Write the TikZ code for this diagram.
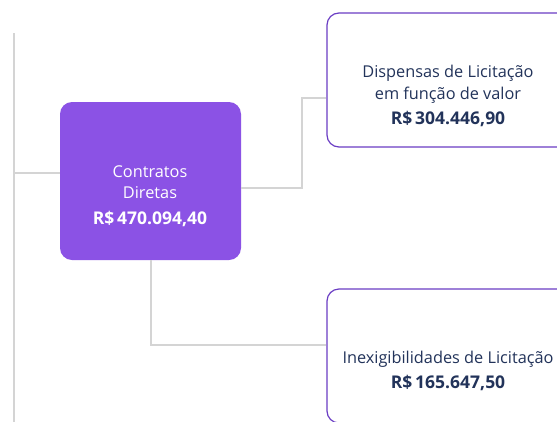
\documentclass[tikz,border=0pt]{standalone}
\usepackage{fontspec}
\setmainfont{Open Sans}
\usepackage{tikz}
\usetikzlibrary{positioning}
\usetikzlibrary{calc}

\definecolor{violet}{HTML}{8B52E5}
\definecolor{violetedge}{HTML}{6A3DC4}
\definecolor{navy}{HTML}{22335A}
\definecolor{linegrey}{HTML}{D4D4D4}

\newcommand{\amount}[1]{{\fontsize{17.5}{21.5}\selectfont\bfseries #1}}

\begin{document}
\begin{tikzpicture}[x=1pt, y=-1pt,
    link/.style={draw=linegrey, line width=1.6pt},
    mainbox/.style={rectangle, rounded corners=12pt, fill=violet, draw=none, minimum width=181pt, minimum height=158pt},
    subbox/.style={rectangle, rounded corners=12pt, fill=white, draw=violetedge, line width=1.2pt, minimum width=242pt},
    txt/.style={align=center, inner sep=0pt, font=\fontsize{16.3}{21.5}\selectfont}]
        % Fix the page to the reference size
        \clip (0,0) rectangle (557,421);
        \fill[white] (0,0) rectangle (557,421);

        % Define the trunk on the left
        \coordinate (trunktop) at (14,33);
        \coordinate (trunkbot) at (14,425);
        \draw[link] (trunktop) -- (trunkbot);

        % Draw the boxes
        \node[mainbox] (contr) at (150.5,181) {};
        \node[subbox, minimum height=134pt] (disp) at (448,80) {};
        \node[subbox, minimum height=134pt] (inex) at (448,356) {};

        % Draw the connectors
        \draw[link] (14,173) -- ([yshift=8pt]contr.west);
        \draw[link] ([yshift=-7pt]contr.east) -- (302,188) |- ([yshift=-18pt]disp.west);
        \draw[link] ([xshift=0.5pt]contr.south) |- ([yshift=11pt]inex.west);

        % Write the texts
        \node[txt, text=white] (contrtxt) at (150,196) {Contratos\\Diretas\\[4pt]\amount{R\$\,470.094,40}};
        \node[txt, text=navy] (disptxt) at (448,96) {Dispensas de Licitação\\em função de valor\\[4pt]\amount{R\$\,304.446,90}};
        \node[txt, text=navy] (inextxt) at (448,371) {Inexigibilidades de Licitação\\[4pt]\amount{R\$\,165.647,50}};
      \end{tikzpicture}
\end{document}
